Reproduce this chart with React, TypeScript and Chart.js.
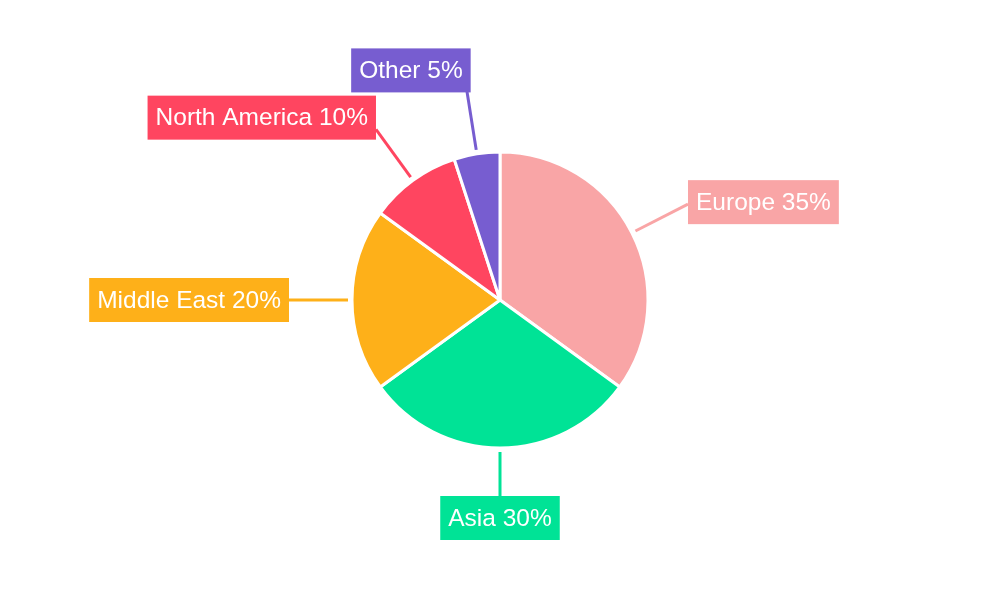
import React, { useEffect, useRef } from "react";
import { Chart, registerables } from "chart.js";

Chart.register(...registerables);

const categories = ["Europe", "Asia", "Middle East", "North America", "Other"];
const shares = [35, 30, 20, 10, 5];
const colors = ["#F9A5A6", "#00E396", "#FEB019", "#FF4560", "#775DD0"];

const FONT = '24.5px "Liberation Sans", Arial, sans-serif';

const calloutPlugin = {
  id: "callouts",
  afterDatasetsDraw(chart: any) {
    const ctx = chart.ctx as CanvasRenderingContext2D;
    const meta = chart.getDatasetMeta(0);
    const labels = chart.data.labels as string[];
    const values = chart.data.datasets[0].data as number[];
    ctx.save();
    ctx.font = FONT;
    meta.data.forEach((arc: any, i: number) => {
      const { x, y, startAngle, endAngle, outerRadius } = arc.getProps(
        ["x", "y", "startAngle", "endAngle", "outerRadius"],
        true
      );
      const mid = (startAngle + endAngle) / 2;
      const dx = Math.cos(mid);
      const dy = Math.sin(mid);
      const r0 = outerRadius + 4;
      const r1 = outerRadius + 63;
      const text = `${labels[i]} ${values[i]}%`;
      const tw = ctx.measureText(text).width;
      const padX = 8;
      const h = 44;
      const w = tw + padX * 2;
      let ax = x + dx * r1;
      let ay = y + dy * r1;
      const hf = Math.sign(dx) * Math.min(1, Math.abs(dx) * 6);
      const cx = ax + hf * w / 2;
      let cy = ay + dy * Math.abs(dy) * Math.abs(dy) * h / 2;
      const maxBottom = chart.height - 60;
      if (cy + h / 2 > maxBottom) {
        const shift = cy + h / 2 - maxBottom;
        cy -= shift;
        ay -= shift;
      }
      const color = colors[i];
      ctx.strokeStyle = color;
      ctx.lineWidth = 3;
      ctx.beginPath();
      ctx.moveTo(x + dx * r0, y + dy * r0);
      ctx.lineTo(ax, ay);
      ctx.stroke();
      ctx.fillStyle = color;
      ctx.fillRect(cx - w / 2, cy - h / 2, w, h);
      ctx.fillStyle = "#ffffff";
      ctx.textAlign = "center";
      ctx.textBaseline = "middle";
      ctx.fillText(text, cx, cy + 1);
    });
    ctx.restore();
  },
};

export default function App() {
  const ref = useRef<HTMLCanvasElement | null>(null);
  useEffect(() => {
    document.body.style.margin = "0";
    const chart = new Chart(ref.current!, {
      type: "pie",
      data: {
        labels: categories,
        datasets: [
          {
            data: shares,
            backgroundColor: colors,
            borderColor: "#ffffff",
            borderWidth: 3,
          },
        ],
      },
      options: {
        animation: false,
        responsive: true,
        maintainAspectRatio: false,
        radius: 148,
        plugins: {
          legend: { display: false },
          tooltip: { enabled: false },
        },
      } as any,
      plugins: [calloutPlugin],
    });
    return () => chart.destroy();
  }, []);
  return (
    <div style={{ position: "fixed", left: 0, top: 0, width: 1000, height: 600, background: "#fff" }}>
      <canvas ref={ref} />
    </div>
  );
}
